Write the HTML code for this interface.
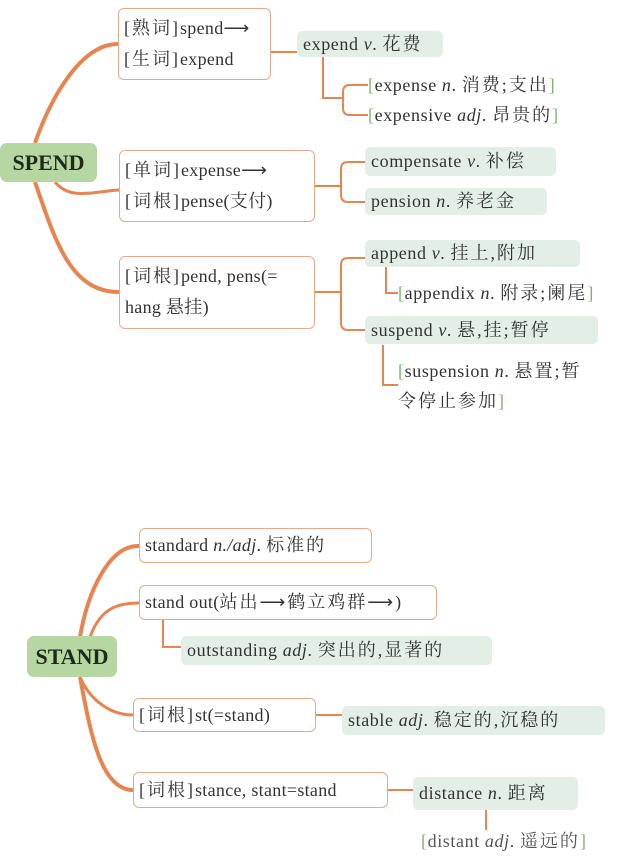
<!DOCTYPE html>
<html><head><meta charset="utf-8"><style>
body{margin:0;width:640px;height:867px;background:#fff;position:relative;overflow:hidden;font-family:"Liberation Serif","Noto Serif CJK SC",serif;color:#333;}
.a{position:absolute;box-sizing:border-box;white-space:nowrap;}
.box{border:1.5px solid #e9a98a;border-radius:6px;background:#fff;font-size:18px;padding-left:5px;letter-spacing:0.3px;}
.g{background:#e3eee7;border-radius:5px;font-size:18px;padding-left:6px;letter-spacing:0.6px;}
.root{background:#b7d7a2;border-radius:7px;font-weight:bold;font-size:22px;color:#1e2a1a;text-align:center;}
.t{font-size:18px;letter-spacing:0.6px;}
.br{color:#7fb46a;}
.cj{letter-spacing:2px;}
i{font-style:italic;}
svg{position:absolute;left:0;top:0;}
</style></head><body>
<svg width="640" height="867" fill="none" stroke="#e8844f" stroke-width="2">
<path d="M35 143 C50 100,80 44,118 44" stroke-width="4"/>
<path d="M55 182 C70 200,90 192,119 190" stroke-width="3"/>
<path d="M35 182 C55 240,70 292,119 292" stroke-width="4"/>
<path d="M271 52 H297"/>
<path d="M323 57 V98 H343"/>
<path d="M368 85 H350 Q343 85 343 92 V108 Q343 115 350 115 H368"/>
<path d="M315 186 H341"/>
<path d="M365 162 H348 Q341 162 341 169 V195 Q341 202 348 202 H365"/>
<path d="M315 292 H341"/>
<path d="M365 258 H348 Q341 258 341 265 V323 Q341 330 348 330 H365"/>
<path d="M386 267 V293 H398"/>
<path d="M383 345 V385 H398"/>
<path d="M80 637 C88 590,110 545,139 546" stroke-width="4"/>
<path d="M90 637 C100 610,115 603,139 603" stroke-width="3"/>
<path d="M80 677 C90 700,110 715,133 715" stroke-width="3"/>
<path d="M80 677 C90 730,100 790,133 790" stroke-width="4"/>
<path d="M163 620 V647 H181"/>
<path d="M316 715 H342"/>
<path d="M388 790 H413"/>
<path d="M486 810 V830"/>
</svg>

<div class="a root" style="left:0;top:143px;width:97px;height:39px;line-height:39px;">SPEND</div>
<div class="a box" style="left:118px;top:8px;width:153px;height:72px;line-height:31px;padding-top:4px;"><span class="cj">[熟词]</span>spend⟶<br><span class="cj">[生词]</span>expend</div>
<div class="a g" style="left:297px;top:31px;width:146px;height:26px;line-height:26px;">expend <i>v</i>. <span class="cj">花费</span></div>
<div class="a t" style="left:368px;top:73px;line-height:24px;"><span class="br">[</span>expense <i>n</i>. <span class="cj">消费;支出</span><span class="br">]</span></div>
<div class="a t" style="left:368px;top:103px;line-height:24px;"><span class="br">[</span>expensive <i>adj</i>. <span class="cj">昂贵的</span><span class="br">]</span></div>

<div class="a box" style="left:119px;top:150px;width:196px;height:72px;line-height:31px;padding-top:4px;"><span class="cj">[单词]</span>expense⟶<br><span class="cj">[词根]</span>pense(支付)</div>
<div class="a g" style="left:365px;top:147px;width:191px;height:29px;line-height:29px;">compensate <i>v</i>. <span class="cj">补偿</span></div>
<div class="a g" style="left:365px;top:188px;width:182px;height:27px;line-height:27px;">pension <i>n</i>. <span class="cj">养老金</span></div>

<div class="a box" style="left:119px;top:256px;width:196px;height:73px;line-height:31px;padding-top:4px;"><span class="cj">[词根]</span>pend, pens(=<br>hang 悬挂)</div>
<div class="a g" style="left:365px;top:240px;width:215px;height:27px;line-height:27px;">append <i>v</i>. <span class="cj">挂上,附加</span></div>
<div class="a t" style="left:398px;top:281px;line-height:24px;"><span class="br">[</span>appendix <i>n</i>. <span class="cj">附录;阑尾</span><span class="br">]</span></div>
<div class="a g" style="left:365px;top:316px;width:233px;height:28px;line-height:28px;">suspend <i>v</i>. <span class="cj">悬,挂;暂停</span></div>
<div class="a t" style="left:398px;top:356px;line-height:30px;"><span class="br">[</span>suspension <i>n</i>. <span class="cj">悬置;暂</span><br><span class="cj">令停止参加</span><span class="br">]</span></div>

<div class="a root" style="left:27px;top:636px;width:90px;height:41px;line-height:41px;">STAND</div>
<div class="a box" style="left:139px;top:528px;width:233px;height:35px;line-height:33px;">standard <i>n./adj</i>. <span class="cj">标准的</span></div>
<div class="a box" style="left:139px;top:585px;width:298px;height:35px;line-height:33px;">stand out(<span class="cj">站出⟶鹤立鸡群⟶</span>)</div>
<div class="a g" style="left:181px;top:636px;width:311px;height:29px;line-height:29px;">outstanding <i>adj</i>. <span class="cj">突出的,显著的</span></div>
<div class="a box" style="left:133px;top:698px;width:183px;height:34px;line-height:32px;"><span class="cj">[词根]</span>st(=stand)</div>
<div class="a g" style="left:342px;top:706px;width:263px;height:29px;line-height:29px;">stable <i>adj</i>. <span class="cj">稳定的,沉稳的</span></div>
<div class="a box" style="left:133px;top:772px;width:255px;height:36px;line-height:34px;"><span class="cj">[词根]</span>stance, stant=stand</div>
<div class="a g" style="left:413px;top:777px;width:165px;height:33px;line-height:33px;">distance <i>n</i>. <span class="cj">距离</span></div>
<div class="a t" style="left:421px;top:828px;line-height:26px;color:#555;"><span class="br">[</span>distant <i>adj</i>. <span class="cj">遥远的</span><span class="br">]</span></div>
</body></html>
